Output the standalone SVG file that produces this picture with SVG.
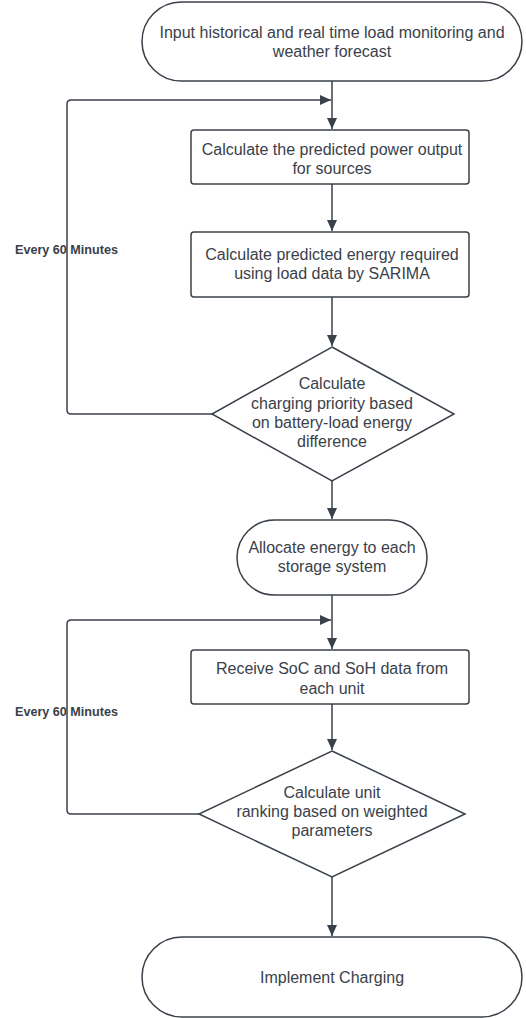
<svg xmlns="http://www.w3.org/2000/svg" width="526" height="1018" viewBox="0 0 526 1018">
<defs>
<marker id="ah" markerWidth="12" markerHeight="10" refX="11" refY="5" orient="auto" markerUnits="userSpaceOnUse">
<path d="M0,0 L11,5 L0,10 Z" fill="#3a414a"/>
</marker>
<style>
.shape{fill:#ffffff;stroke:#3a414a;stroke-width:1.5}
.t{font-family:"Liberation Sans",Arial,sans-serif;font-size:16px;fill:#3a414a;text-anchor:middle}
.lbl{font-family:"Liberation Sans",Arial,sans-serif;font-size:12.6px;font-weight:bold;fill:#3a414a}
.c{fill:none;stroke:#3a414a;stroke-width:1.5}
</style>
</defs>
<rect width="526" height="1018" fill="#ffffff"/>
<g id="connectors">
<path class="c" d="M332,81 V129" marker-end="url(#ah)"/>
<path class="c" d="M212,414 H71 Q67,414 67,410 V104 Q67,100 71,100 H331" marker-end="url(#ah)"/>
<path class="c" d="M332,184 V231" marker-end="url(#ah)"/>
<path class="c" d="M332,297 V346" marker-end="url(#ah)"/>
<path class="c" d="M332,481 V519" marker-end="url(#ah)"/>
<path class="c" d="M332,595 V649" marker-end="url(#ah)"/>
<path class="c" d="M199,814 H71 Q67,814 67,810 V624 Q67,620 71,620 H331" marker-end="url(#ah)"/>
<path class="c" d="M332,704 V750" marker-end="url(#ah)"/>
<path class="c" d="M332,877 V936" marker-end="url(#ah)"/>
<text class="lbl" x="15" y="254">Every 60 Minutes</text>
<text class="lbl" x="15" y="716">Every 60 Minutes</text>
</g>
<g id="start">
<rect class="shape" x="142" y="2" width="380" height="79" rx="39.5"/>
<text class="t" x="332" y="38">Input historical and real time load monitoring and</text>
<text class="t" x="332" y="57">weather forecast</text>
</g>
<g id="calc-power">
<rect class="shape" x="191" y="130" width="278" height="54" rx="3"/>
<text class="t" x="332" y="155">Calculate the predicted power output</text>
<text class="t" x="332" y="174">for sources</text>
</g>
<g id="calc-energy">
<rect class="shape" x="191" y="232" width="278" height="65" rx="3"/>
<text class="t" x="332" y="260">Calculate predicted energy required</text>
<text class="t" x="332" y="279">using load data by SARIMA</text>
</g>
<g id="priority">
<polygon class="shape" points="332,347 454,414 332,481 212,414"/>
<text class="t" x="332" y="389">Calculate</text>
<text class="t" x="332" y="409">charging priority based</text>
<text class="t" x="332" y="428">on battery-load energy</text>
<text class="t" x="332" y="447">difference</text>
</g>
<g id="allocate">
<rect class="shape" x="237" y="520" width="190" height="75" rx="37.5"/>
<text class="t" x="332" y="553">Allocate energy to each</text>
<text class="t" x="332" y="572">storage system</text>
</g>
<g id="receive">
<rect class="shape" x="191" y="650" width="278" height="54" rx="3"/>
<text class="t" x="332" y="674">Receive SoC and SoH data from</text>
<text class="t" x="332" y="694">each unit</text>
</g>
<g id="ranking">
<polygon class="shape" points="332,751 465,814 332,877 199,814"/>
<text class="t" x="332" y="798">Calculate unit</text>
<text class="t" x="332" y="817">ranking based on weighted</text>
<text class="t" x="332" y="836">parameters</text>
</g>
<g id="implement">
<rect class="shape" x="142" y="937" width="380" height="80" rx="40"/>
<text class="t" x="332" y="983">Implement Charging</text>
</g>
</svg>
